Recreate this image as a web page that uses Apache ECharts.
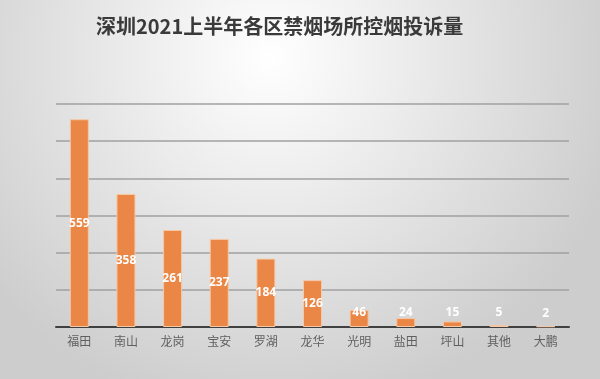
<!DOCTYPE html>
<html><head><meta charset="utf-8">
<script src="https://cdn.jsdelivr.net/npm/echarts@6/dist/echarts.min.js"></script>
<style>html,body{margin:0;padding:0;}#c{width:600px;height:379px;}</style>
</head><body><div id="c"></div>
<script>
const titleText = '深圳2021上半年各区禁烟场所控烟投诉量';
const categories = ['福田','南山','龙岗','宝安','罗湖','龙华','光明','盐田','坪山','其他','大鹏'];
const values = [559,358,261,237,184,126,46,24,15,5,2];

const chart = echarts.init(document.getElementById('c'));
const data = values.map(v => {
  const item = { value: v };
  if (v < 80) {
    item.label = { position: 'insideBottom', distance: 8 };
  }
  return item;
});
chart.setOption({
  backgroundColor: {
    type: 'radial', x: 0.45, y: 0.15, r: 0.95,
    colorStops: [{offset: 0, color: '#ffffff'}, {offset: 1, color: '#cdcdcd'}]
  },
  title: {
    text: titleText, left: 91, top: 11,
    textStyle: { fontFamily: 'Noto Sans CJK SC', fontSize: 20, fontWeight: 'bold', color: '#3a3a3a' }
  },
  grid: { left: 56, right: 31, top: 104, bottom: 52 },
  xAxis: {
    type: 'category', data: categories,
    axisLine: { lineStyle: { color: '#404040', width: 2 } },
    axisTick: { show: false },
    axisLabel: { color: '#606060', fontSize: 12, fontFamily: 'Noto Sans CJK SC', margin: 8 }
  },
  yAxis: {
    type: 'value', min: 0, max: 600, interval: 100,
    axisLabel: { show: false }, axisLine: { show: false }, axisTick: { show: false },
    splitLine: { lineStyle: { color: '#a0a0a0', width: 1.5 } }
  },
  series: [{
    type: 'bar', data: data, barWidth: 19,
    itemStyle: { color: '#EA8746', borderColor: '#F6C8A6', borderWidth: 1 },
    label: {
      show: true, position: 'inside', color: '#ffffff', fontWeight: 'bold',
      fontSize: 12, fontFamily: 'Open Sans'
    }
  }]
});
</script></body></html>
